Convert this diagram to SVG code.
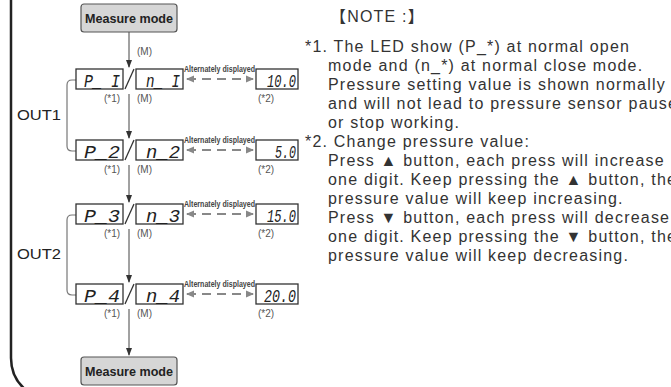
<svg xmlns="http://www.w3.org/2000/svg" width="671" height="387" viewBox="0 0 671 387">
<defs>
<style>
.mm rect{fill:#d6d6d6;stroke:#555;stroke-width:1.2}
.mm text{font-family:"Liberation Sans",Arial,sans-serif;font-weight:bold;font-size:13px;fill:#222;text-anchor:middle}
.lcd{fill:#fff;stroke:#333;stroke-width:1.3}
.seg{font-family:"Liberation Mono","DejaVu Sans Mono",monospace;font-style:italic;font-size:19px;fill:#222}
.sm{font-family:"Liberation Sans",Arial,sans-serif;font-size:10px;fill:#555}
.alt{font-family:"Liberation Sans",Arial,sans-serif;font-weight:bold;font-size:9.5px;fill:#444}
.out{font-family:"Liberation Sans",Arial,sans-serif;font-size:14px;fill:#222}
.note{font-family:"Liberation Sans",Arial,"Noto Sans CJK SC",sans-serif;font-size:16px;fill:#333;letter-spacing:1.2px}
.conn{stroke:#444;stroke-width:1;fill:none}
.br{stroke:#777;stroke-width:1.2;fill:none}
.dash{stroke:#888;stroke-width:2;stroke-dasharray:9 6;fill:none}
.slash{stroke:#333;stroke-width:1.3}
</style>
<marker id="ah" viewBox="0 0 8 8" refX="7" refY="4" markerWidth="8" markerHeight="8" markerUnits="userSpaceOnUse" orient="auto"><path d="M0,1 L8,4 L0,7 Z" fill="#333"/></marker>
<marker id="ag" viewBox="0 0 8 8" refX="7" refY="4" markerWidth="8" markerHeight="8" markerUnits="userSpaceOnUse" orient="auto-start-reverse"><path d="M0,0.5 L8,4 L0,7.5 Z" fill="#888"/></marker>
</defs>
<rect width="671" height="387" fill="#fff"/>
<path d="M11,0 V358 Q11,378 26,390" stroke="#222" stroke-width="2.5" fill="none"/>

<g id="connectors">
<line class="conn" x1="129" y1="32" x2="129" y2="67" marker-end="url(#ah)"/>
<line class="conn" x1="129" y1="94" x2="129" y2="138" marker-end="url(#ah)"/>
<line class="conn" x1="129" y1="165" x2="129" y2="202" marker-end="url(#ah)"/>
<line class="conn" x1="129" y1="229" x2="129" y2="282" marker-end="url(#ah)"/>
<line class="conn" x1="129" y1="309" x2="129" y2="355" marker-end="url(#ah)"/>
<path class="br" d="M76,80 H72 Q67,80 67,85 V146 Q67,151 72,151 H76"/>
<path class="br" d="M76,215 H72 Q67,215 67,220 V290 Q67,295 72,295 H76"/>
<line class="dash" x1="187" y1="79" x2="253" y2="79" marker-start="url(#ag)" marker-end="url(#ag)"/>
<line class="dash" x1="187" y1="150" x2="253" y2="150" marker-start="url(#ag)" marker-end="url(#ag)"/>
<line class="dash" x1="187" y1="214" x2="253" y2="214" marker-start="url(#ag)" marker-end="url(#ag)"/>
<line class="dash" x1="187" y1="294" x2="253" y2="294" marker-start="url(#ag)" marker-end="url(#ag)"/>
</g>

<g id="measure-top" class="mm"><rect x="81" y="4" width="96" height="28" rx="3"/><text x="129" y="23" textLength="88" lengthAdjust="spacingAndGlyphs">Measure mode</text></g>
<text class="sm" x="137" y="55">(M)</text>

<g id="row1">
<rect class="lcd" x="76" y="69" width="47" height="20"/><text class="seg" x="84" y="87" textLength="36" lengthAdjust="spacingAndGlyphs">P_ I</text>
<line class="slash" x1="125" y1="89" x2="134" y2="69"/>
<rect class="lcd" x="136" y="69" width="47" height="20"/><text class="seg" x="146" y="87" textLength="34" lengthAdjust="spacingAndGlyphs">n_ I</text>
<text class="alt" x="184" y="72" textLength="71" lengthAdjust="spacingAndGlyphs">Alternately displayed</text>
<rect class="lcd" x="256" y="69" width="42" height="20"/><text class="seg" x="267" y="87" textLength="29" lengthAdjust="spacingAndGlyphs">10.0</text>
<text class="sm" x="104" y="102">(*1)</text><text class="sm" x="137" y="102">(M)</text><text class="sm" x="258" y="102">(*2)</text>
</g>

<g id="row2">
<rect class="lcd" x="76" y="140" width="47" height="20"/><text class="seg" x="84" y="158" textLength="36" lengthAdjust="spacingAndGlyphs">P_2</text>
<line class="slash" x1="125" y1="160" x2="134" y2="140"/>
<rect class="lcd" x="136" y="140" width="47" height="20"/><text class="seg" x="146" y="158" textLength="34" lengthAdjust="spacingAndGlyphs">n_2</text>
<text class="alt" x="184" y="143" textLength="71" lengthAdjust="spacingAndGlyphs">Alternately displayed</text>
<rect class="lcd" x="256" y="140" width="42" height="20"/><text class="seg" x="275" y="158" textLength="21" lengthAdjust="spacingAndGlyphs">5.0</text>
<text class="sm" x="104" y="173">(*1)</text><text class="sm" x="137" y="173">(M)</text><text class="sm" x="258" y="173">(*2)</text>
</g>

<g id="row3">
<rect class="lcd" x="76" y="204" width="47" height="20"/><text class="seg" x="84" y="222" textLength="36" lengthAdjust="spacingAndGlyphs">P_3</text>
<line class="slash" x1="125" y1="224" x2="134" y2="204"/>
<rect class="lcd" x="136" y="204" width="47" height="20"/><text class="seg" x="146" y="222" textLength="34" lengthAdjust="spacingAndGlyphs">n_3</text>
<text class="alt" x="184" y="207" textLength="71" lengthAdjust="spacingAndGlyphs">Alternately displayed</text>
<rect class="lcd" x="256" y="204" width="42" height="20"/><text class="seg" x="267" y="222" textLength="29" lengthAdjust="spacingAndGlyphs">15.0</text>
<text class="sm" x="104" y="237">(*1)</text><text class="sm" x="137" y="237">(M)</text><text class="sm" x="258" y="237">(*2)</text>
</g>

<g id="row4">
<rect class="lcd" x="76" y="284" width="47" height="20"/><text class="seg" x="84" y="302" textLength="36" lengthAdjust="spacingAndGlyphs">P_4</text>
<line class="slash" x1="125" y1="304" x2="134" y2="284"/>
<rect class="lcd" x="136" y="284" width="47" height="20"/><text class="seg" x="146" y="302" textLength="34" lengthAdjust="spacingAndGlyphs">n_4</text>
<text class="alt" x="184" y="287" textLength="71" lengthAdjust="spacingAndGlyphs">Alternately displayed</text>
<rect class="lcd" x="256" y="284" width="42" height="20"/><text class="seg" x="264" y="302" textLength="32" lengthAdjust="spacingAndGlyphs">20.0</text>
<text class="sm" x="104" y="317">(*1)</text><text class="sm" x="137" y="317">(M)</text><text class="sm" x="258" y="317">(*2)</text>
</g>

<g id="out1"><text class="out" x="17" y="120" textLength="44" lengthAdjust="spacingAndGlyphs">OUT1</text></g>
<g id="out2"><text class="out" x="17" y="259" textLength="44" lengthAdjust="spacingAndGlyphs">OUT2</text></g>

<g id="measure-bottom" class="mm"><rect x="81" y="357" width="96" height="28" rx="3"/><text x="129" y="376" textLength="88" lengthAdjust="spacingAndGlyphs">Measure mode</text></g>

<g id="notes" class="note">
<text x="330" y="22">【NOTE :】</text>
<text x="305" y="52">*1. The LED show (P_*) at normal open</text>
<text x="328" y="71">mode and (n_*) at normal close mode.</text>
<text x="328" y="90">Pressure setting value is shown normally</text>
<text x="328" y="109">and will not lead to pressure sensor pause</text>
<text x="328" y="128">or stop working.</text>
<text x="305" y="147">*2. Change pressure value:</text>
<text x="328" y="166">Press ▲ button, each press will increase</text>
<text x="328" y="185">one digit. Keep pressing the ▲ button, the</text>
<text x="328" y="204">pressure value will keep increasing.</text>
<text x="328" y="223">Press ▼ button, each press will decrease</text>
<text x="328" y="242">one digit. Keep pressing the ▼ button, the</text>
<text x="328" y="261">pressure value will keep decreasing.</text>
</g>
</svg>
